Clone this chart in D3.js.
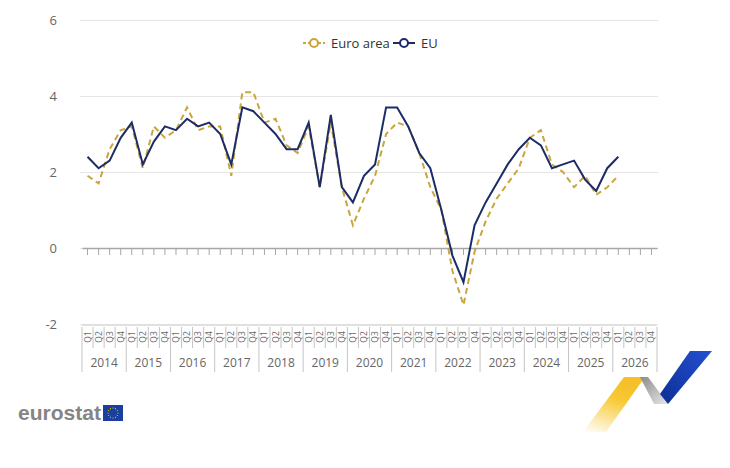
<!DOCTYPE html>
<html>
<head>
<meta charset="utf-8">
<script src="https://cdn.jsdelivr.net/npm/d3@7"></script>
<style>
  body { margin: 0; background: #fff; }
  svg { display: block; font-family: 'Open Sans', sans-serif; }
</style>
</head>
<body>
<svg id="chart" width="730" height="468"></svg>
<script>
// quarterly growth, %
const years = ['2014', '2015', '2016', '2017', '2018', '2019', '2020', '2021', '2022', '2023', '2024', '2025', '2026'];
const quarters = ['Q1', 'Q2', 'Q3', 'Q4'];
const yTicks = [-2, 0, 2, 4, 6];

const euroArea = [
  1.9, 1.7, 2.6, 3.1, 3.2, 2.1, 3.2, 2.9, 3.1, 3.7, 3.1, 3.2, 3.2,
  1.9, 4.1, 4.1, 3.3, 3.4, 2.7, 2.5, 3.2, 1.6, 3.3, 1.6, 0.6, 1.3,
  1.9, 3.0, 3.3, 3.2, 2.5, 1.6, 1.0, -0.6, -1.5, -0.1, 0.7, 1.3, 1.7,
  2.1, 2.9, 3.1, 2.2, 2.0, 1.6, 1.9, 1.4, 1.6, 1.9
];
const eu = [
  2.4, 2.1, 2.3, 2.9, 3.3, 2.2, 2.8, 3.2, 3.1, 3.4, 3.2, 3.3, 3.0,
  2.2, 3.7, 3.6, 3.3, 3.0, 2.6, 2.6, 3.3, 1.6, 3.5, 1.6, 1.2, 1.9,
  2.2, 3.7, 3.7, 3.2, 2.5, 2.1, 1.0, -0.2, -0.9, 0.6, 1.2, 1.7, 2.2,
  2.6, 2.9, 2.7, 2.1, 2.2, 2.3, 1.8, 1.5, 2.1, 2.4
];

const gold = '#c9a63c';
const navy = '#1c2c66';

const categories = years.flatMap(yr => quarters.map(q => `${yr} ${q}`));

const svg = d3.select('#chart');

const x = d3.scaleBand()
  .domain(categories)
  .range([82, 657]);

const y = d3.scaleLinear()
  .domain([-2, 6])
  .range([324, 20]);

// grid + y labels
svg.append('g')
  .attr('transform', 'translate(80,0)')
  .call(d3.axisLeft(y).tickValues(yTicks).tickFormat(d => String(d))
    .tickSizeInner(-578).tickSizeOuter(0).tickPadding(23))
  .call(g => g.select('.domain').remove())
  .call(g => g.selectAll('.tick line').attr('stroke', '#e6e6e6'))
  .call(g => g.selectAll('.tick text')
    .attr('fill', '#666')
    .style('font-size', '13px')
    .style('font-family', "'Open Sans', sans-serif"));

// zero axis with ticks
svg.append('g')
  .attr('transform', `translate(0,${y(0)})`)
  .call(d3.axisBottom(x).tickSizeInner(7).tickSizeOuter(0).tickFormat(''))
  .call(g => g.select('.domain').attr('stroke', '#a6a6a6').attr('stroke-width', 1.5))
  .call(g => g.selectAll('.tick line').attr('stroke', '#a6a6a6'));

// grouped category labels at the bottom
const catTop = y(-2) + 3;
const cat = svg.append('g');

cat.append('line')
  .attr('x1', x.range()[0]).attr('x2', x.range()[1])
  .attr('y1', y(-2) + 1).attr('y2', y(-2) + 1)
  .attr('stroke', '#e0e0e0').attr('stroke-width', 2);

cat.selectAll('line.sep')
  .data(categories.concat(['end']))
  .join('line')
  .attr('class', 'sep')
  .attr('x1', d => d === 'end' ? x.range()[1] : x(d))
  .attr('x2', d => d === 'end' ? x.range()[1] : x(d))
  .attr('y1', catTop)
  .attr('y2', d => (d === 'end' || d.endsWith('Q1')) ? catTop + 45 : catTop + 21)
  .attr('stroke', '#c4c4c4')
  .attr('stroke-width', 1);

cat.selectAll('text.q')
  .data(categories)
  .join('text')
  .attr('class', 'q')
  .attr('transform', d => `translate(${x(d) + x.bandwidth() / 2 + 3},${catTop + 10}) rotate(-90)`)
  .attr('text-anchor', 'middle')
  .attr('fill', '#666')
  .style('font-size', '8.5px')
  .text(d => d.split(' ')[1]);

cat.selectAll('text.yr')
  .data(years)
  .join('text')
  .attr('class', 'yr')
  .attr('x', d => x(`${d} Q1`) + 2 * x.bandwidth())
  .attr('y', catTop + 40)
  .attr('text-anchor', 'middle')
  .attr('fill', '#666')
  .style('font-size', '12px')
  .text(d => d);

// lines
const line = d3.line()
  .x((d, i) => x(categories[i]) + x.bandwidth() / 2)
  .y(d => y(d));

svg.append('path')
  .datum(euroArea)
  .attr('fill', 'none')
  .attr('stroke', gold)
  .attr('stroke-width', 2)
  .attr('stroke-dasharray', '6,4')
  .attr('d', line);

svg.append('path')
  .datum(eu)
  .attr('fill', 'none')
  .attr('stroke', navy)
  .attr('stroke-width', 2)
  .attr('d', line);

// legend
const legendItems = [
  { name: 'Euro area', color: gold, dash: '3,2', x: 303 },
  { name: 'EU', color: navy, dash: null, x: 393 }
];
const legend = svg.append('g').attr('transform', 'translate(0,43)');
const item = legend.selectAll('g')
  .data(legendItems)
  .join('g')
  .attr('transform', d => `translate(${d.x},0)`);
item.append('line')
  .attr('x1', 0).attr('x2', 22)
  .attr('stroke', d => d.color)
  .attr('stroke-width', 2)
  .attr('stroke-dasharray', d => d.dash);
item.append('circle')
  .attr('cx', 11).attr('r', 4)
  .attr('fill', '#fff')
  .attr('stroke', d => d.color)
  .attr('stroke-width', 2);
item.append('text')
  .attr('x', 28)
  .attr('dy', '0.35em')
  .attr('fill', '#333')
  .style('font-size', '13px')
  .text(d => d.name);

// eurostat logo
const logo = svg.append('g');
logo.append('text')
  .attr('x', 18).attr('y', 420)
  .attr('textLength', 83)
  .attr('lengthAdjust', 'spacingAndGlyphs')
  .attr('fill', '#858585')
  .style('font-family', "'Liberation Sans Narrow', 'Liberation Sans', sans-serif")
  .style('font-weight', 'bold')
  .style('font-size', '21px')
  .text('eurostat');
logo.append('rect')
  .attr('x', 103).attr('y', 405).attr('width', 20).attr('height', 16)
  .attr('fill', '#1a3fa0');
logo.selectAll('circle')
  .data(d3.range(12))
  .join('circle')
  .attr('cx', i => 113 + 5 * Math.cos(i * Math.PI / 6))
  .attr('cy', i => 413 + 5 * Math.sin(i * Math.PI / 6))
  .attr('r', 0.6)
  .attr('fill', '#f5d000');

// decorative ribbon
const defs = svg.append('defs');
const gy = defs.append('linearGradient').attr('id', 'gy').attr('x1', 0).attr('y1', 1).attr('x2', 0.4).attr('y2', 0);
gy.append('stop').attr('offset', 0).attr('stop-color', '#fff');
gy.append('stop').attr('offset', 0.7).attr('stop-color', '#f7c934');
gy.append('stop').attr('offset', 1).attr('stop-color', '#f5c02a');
const gg = defs.append('linearGradient').attr('id', 'gg').attr('x1', 0).attr('y1', 0).attr('x2', 1).attr('y2', 1);
gg.append('stop').attr('offset', 0).attr('stop-color', '#8a8a8a');
gg.append('stop').attr('offset', 1).attr('stop-color', '#e8e8e8');
const gb = defs.append('linearGradient').attr('id', 'gb').attr('x1', 1).attr('y1', 0).attr('x2', 0).attr('y2', 1);
gb.append('stop').attr('offset', 0).attr('stop-color', '#2450d0');
gb.append('stop').attr('offset', 1).attr('stop-color', '#0c2e96');

const rib = svg.append('g');
rib.append('path')
  .attr('d', 'M624,377 L645,377 L606,432 L583,432 Z')
  .attr('fill', 'url(#gy)');
rib.append('path')
  .attr('d', 'M640,377 L648,377 L668,404 L654,404 Z')
  .attr('fill', 'url(#gg)');
rib.append('path')
  .attr('d', 'M690,351 L712,351 L668,404 L660,394 Z')
  .attr('fill', 'url(#gb)');
</script>
</body>
</html>
